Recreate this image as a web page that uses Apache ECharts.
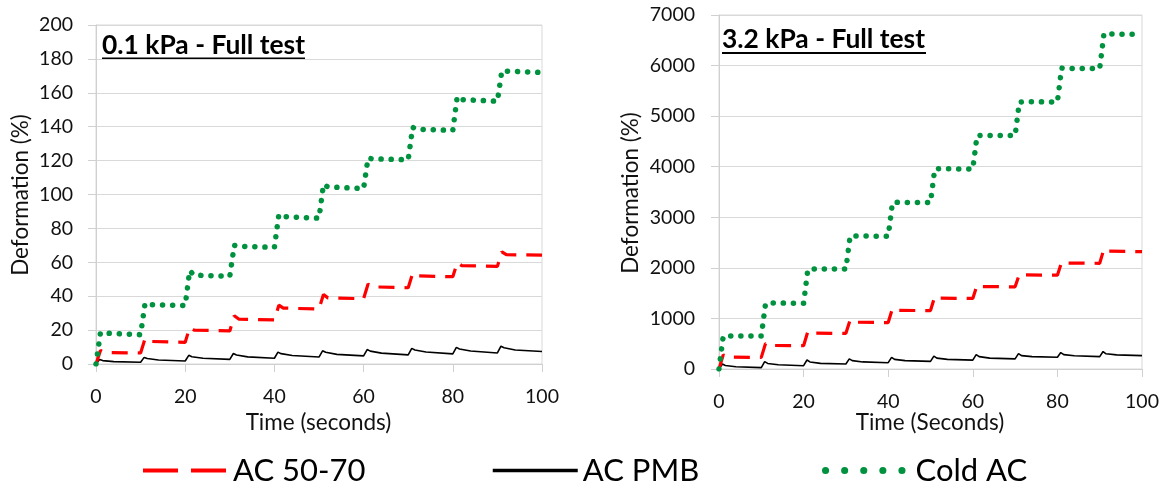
<!DOCTYPE html>
<html><head><meta charset="utf-8">
<script src="https://cdn.jsdelivr.net/npm/echarts@6/dist/echarts.min.js"></script>
<style>html,body{margin:0;padding:0;background:#fff}#c{width:1164px;height:481px}</style>
</head><body><div id="c"></div>
<script>
// ---- DATA ----
const seriesNames = ['AC 50-70', 'AC PMB', 'Cold AC'];
const panelTitles = ['0.1 kPa - Full test', '3.2 kPa - Full test'];
const xTitles = ['Time (seconds)', 'Time (Seconds)'];
const yTitle = 'Deformation (%)';
const yMax = [200, 7000];
const yStep = [20, 1000];
const xMax = 100;
const xStep = 20;

// time points (s) for the step-like curves (AC 50-70, Cold AC)
const stepTime = [0,1,2, 10,11,12, 20,21,22, 30,31,32, 40,41,42, 50,51,52, 60,61,62, 70,71,72, 80,81,82, 90,91,92, 100];
// time points (s) for AC PMB
const pmbTime = [0,0.8,1.5,4, 10,10.8,11.5,14, 20,20.8,21.5,24, 30,30.8,31.5,34, 40,40.8,41.5,44,
                 50,50.8,51.5,54, 60,60.8,61.5,64, 70,70.8,71.5,74, 80,80.8,81.5,84, 90,90.8,91.5,94, 100];

// 0.1 kPa
const ac5070Low = [0,8.0,6.8, 6.5,15.0,13.3, 12.8,21.5,20.0, 19.5,28.5,26.5, 26.0,34.7,33.0, 32.4,41.0,39.0,
                   38.5,47.2,45.5, 45.0,53.5,52.0, 51.5,59.8,58.0, 57.6,66.2,64.5, 64.2];
const coldLow = [0,18.5,18.2, 17.3,35.8,35.0, 34.5,55.0,52.4, 51.8,70.0,69.5, 68.8,88.2,87.0, 86.0,105.9,104.5,
                 103.5,121.5,121.0, 120.5,139.6,138.5, 137.8,157.8,156.0, 155.0,173.0,172.8, 172.0];
const pmbLow = [0,2.7,2.0,1.4, 1.0,3.9,3.2,2.4, 1.8,5.1,4.3,3.4, 2.7,6.2,5.3,4.2, 3.4,7.0,6.1,5.0,
                4.1,7.8,6.9,5.7, 4.8,8.5,7.6,6.4, 5.4,9.2,8.3,7.1, 6.0,9.8,8.9,7.7, 6.5,10.5,9.6,8.3, 7.4];

// 3.2 kPa
const ac5070High = [0,280,235, 230,505,465, 460,740,708, 705,968,925, 918,1195,1160, 1155,1430,1400,
                    1395,1655,1630, 1625,1870,1860, 1855,2110,2095, 2090,2375,2330, 2320];
const coldHigh = [0,645,655, 655,1290,1305, 1300,1965,1975, 1975,2625,2630, 2625,3285,3295, 3290,3950,3960,
                  3955,4610,4620, 4615,5275,5285, 5280,5950,5945, 5940,6630,6625, 6615];
const pmbHigh = [0,100,70,45, 28,145,110,85, 65,178,140,112, 98,200,165,140, 125,230,190,165,
                 150,255,215,190, 175,285,245,215, 200,305,265,245, 232,325,285,262, 245,345,300,280, 264];

// ---- CHART ----
const FONT = 'Lato, "Open Sans", "Noto Sans", sans-serif';
const zip = (t, v) => t.map((x, i) => [x, v[i]]);

const lineStyles = [
  { color: '#ff0000', width: 3.2, type: [16, 10] },
  { color: '#000000', width: 1.6, type: 'solid' },
  { color: '#00923f', width: 5.5, type: [0.1, 10], cap: 'round' }
];
const legendLineStyles = [
  { color: '#ff0000', width: 4, type: [35, 13] },
  { color: '#000000', width: 3.5, type: 'solid' },
  { color: '#00923f', width: 7, type: [0.1, 19], cap: 'round' }
];

const panels = [
  { red: ac5070Low, black: pmbLow, green: coldLow },
  { red: ac5070High, black: pmbHigh, green: coldHigh }
];

const grids = [
  { left: 96, top: 25, width: 446, height: 339 },
  { left: 719, top: 15, width: 423, height: 354 }
];

const series = [];
panels.forEach((p, i) => {
  const data = [zip(stepTime, p.red), zip(pmbTime, p.black), zip(stepTime, p.green)];
  data.forEach((d, k) => {
    series.push({
      name: seriesNames[k], type: 'line', xAxisIndex: i, yAxisIndex: i,
      data: d, symbol: 'none', showSymbol: false, smooth: false,
      color: lineStyles[k].color, lineStyle: lineStyles[k], z: [3, 2, 4][k], silent: true
    });
  });
});

const axisLineColor = '#d0d0d0';
const option = {
  animation: false,
  backgroundColor: '#ffffff',
  textStyle: { fontFamily: FONT },
  grid: grids.map(g => Object.assign({ show: true, borderColor: '#d9d9d9', borderWidth: 1, containLabel: false }, g)),
  xAxis: [0, 1].map(i => ({
    type: 'value', gridIndex: i, min: 0, max: xMax, interval: xStep,
    axisLine: { show: true, lineStyle: { color: axisLineColor, width: 1 } },
    axisTick: { show: true, length: 8, lineStyle: { color: axisLineColor } },
    splitLine: { show: false },
    axisLabel: { fontSize: 19.5, color: '#111', margin: 23, fontFamily: FONT, formatter: v => String(v) }
  })),
  yAxis: [0, 1].map(i => ({
    type: 'value', gridIndex: i, min: 0, max: yMax[i], interval: yStep[i],
    axisLine: { show: true, lineStyle: { color: axisLineColor, width: 1 } },
    axisTick: { show: true, length: 8, lineStyle: { color: axisLineColor } },
    splitLine: { show: true, lineStyle: { color: '#d9d9d9', width: 1 } },
    axisLabel: { fontSize: 19.5, color: '#111', margin: [23, 24][i], fontFamily: FONT, formatter: v => String(v) }
  })),
  legend: seriesNames.map((n, i) => ({
    data: [{ name: n, itemStyle: { opacity: 0 }, lineStyle: legendLineStyles[i] }],
    left: [136, 486, 817][i], top: 450, itemWidth: 85, itemHeight: 12, itemGap: 0,
    selectedMode: false,
    textStyle: { fontFamily: FONT, fontSize: 31, color: '#000' }
  })),
  graphic: [
    { type: 'text', x: 102, y: 45, style: { text: panelTitles[0], font: 'bold 26.4px ' + FONT, fill: '#000', align: 'left', verticalAlign: 'middle' } },
    { type: 'line', shape: { x1: 102, y1: 58.5, x2: 305, y2: 58.5 }, style: { stroke: '#000', lineWidth: 2 } },
    { type: 'text', x: 722, y: 39.5, style: { text: panelTitles[1], font: 'bold 26.4px ' + FONT, fill: '#000', align: 'left', verticalAlign: 'middle' } },
    { type: 'line', shape: { x1: 722, y1: 53, x2: 926, y2: 53 }, style: { stroke: '#000', lineWidth: 2 } },
    { type: 'text', x: 318.5, y: 423, style: { text: xTitles[0], font: '22.5px ' + FONT, fill: '#111', align: 'center', verticalAlign: 'middle' } },
    { type: 'text', x: 930, y: 423, style: { text: xTitles[1], font: '22.5px ' + FONT, fill: '#111', align: 'center', verticalAlign: 'middle' } },
    { type: 'text', x: 21, y: 195, rotation: Math.PI / 2, style: { text: yTitle, font: '22.5px ' + FONT, fill: '#111', align: 'center', verticalAlign: 'middle' } },
    { type: 'text', x: 631, y: 193, rotation: Math.PI / 2, style: { text: yTitle, font: '22.5px ' + FONT, fill: '#111', align: 'center', verticalAlign: 'middle' } }
  ],
  series: series
};

const chart = echarts.init(document.getElementById('c'), null, { renderer: 'canvas', width: 1164, height: 481 });
chart.setOption(option);
</script>
</body></html>
